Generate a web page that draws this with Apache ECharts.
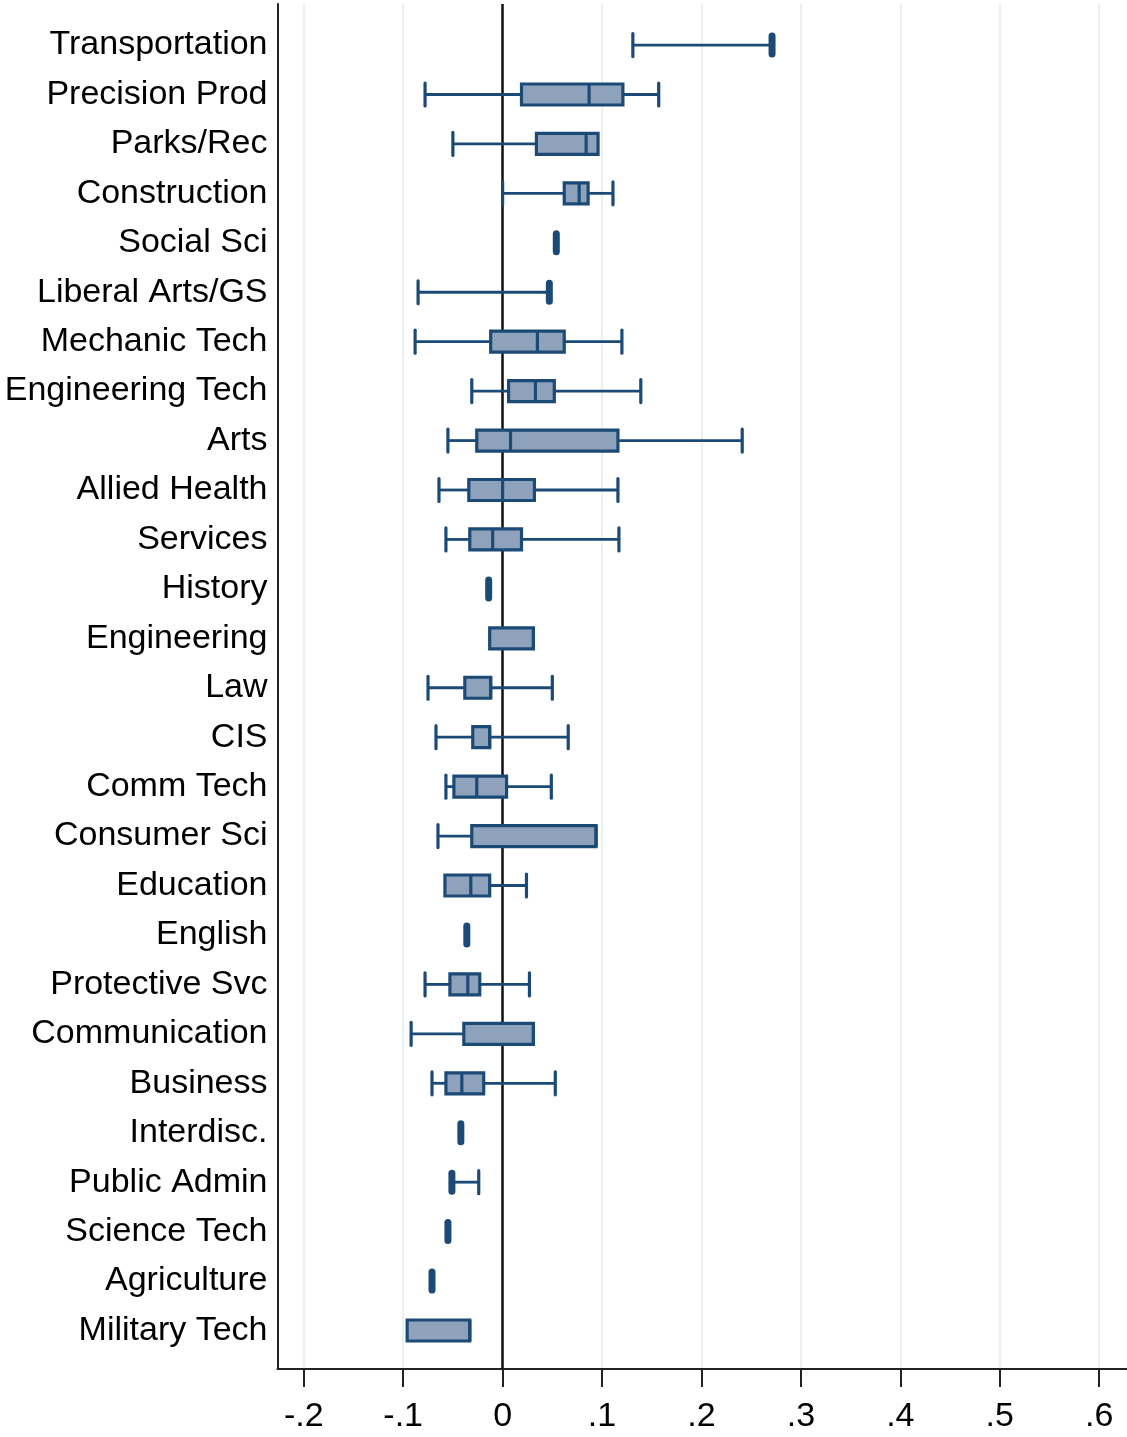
<!DOCTYPE html>
<html>
<head>
<meta charset="utf-8">
<title>Distribution of effects by field</title>
<script src="https://cdn.jsdelivr.net/npm/echarts@6/dist/echarts.min.js"></script>
<style>
  html, body { margin: 0; padding: 0; background: #fff; }
  #chart { width: 1127px; height: 1437px; }
</style>
</head>
<body>
<div id="chart"></div>
<script>
// Fields, listed top to bottom
const categories = [
  'Transportation', 'Precision Prod', 'Parks/Rec', 'Construction', 'Social Sci',
  'Liberal Arts/GS', 'Mechanic Tech', 'Engineering Tech', 'Arts', 'Allied Health',
  'Services', 'History', 'Engineering', 'Law', 'CIS', 'Comm Tech', 'Consumer Sci',
  'Education', 'English', 'Protective Svc', 'Communication', 'Business',
  'Interdisc.', 'Public Admin', 'Science Tech', 'Agriculture', 'Military Tech'
];

// Box-plot statistics per field (same order as categories)
const whiskerLow  = [0.131, -0.078, -0.050, 0.000, 0.054, -0.085, -0.088, -0.031, -0.055, -0.064, -0.057, -0.014, -0.013, -0.075, -0.067, -0.057, -0.065, -0.058, -0.036, -0.078, -0.092, -0.071, -0.042, -0.051, -0.055, -0.071, -0.096];
const boxLow      = [0.271,  0.019,  0.034, 0.062, 0.054,  0.047, -0.012,  0.006, -0.026, -0.034, -0.033, -0.014, -0.013, -0.038, -0.030, -0.049, -0.031, -0.058, -0.036, -0.053, -0.039, -0.057, -0.042, -0.051, -0.055, -0.071, -0.096];
const medians     = [0.271,  0.087,  0.084, 0.077, 0.054,  0.047,  0.035,  0.033,  0.008,  0.000, -0.010, -0.014,  0.031, -0.012, -0.013, -0.026,  0.094, -0.032, -0.036, -0.035,  0.031, -0.041, -0.042, -0.051, -0.055, -0.071, -0.033];
const boxHigh     = [0.271,  0.121,  0.096, 0.086, 0.054,  0.047,  0.062,  0.052,  0.116,  0.032,  0.019, -0.014,  0.031, -0.012, -0.013,  0.004,  0.094, -0.013, -0.036, -0.023,  0.031, -0.019, -0.042, -0.051, -0.055, -0.071, -0.033];
const whiskerHigh = [0.271,  0.157,  0.096, 0.111, 0.054,  0.047,  0.120,  0.139,  0.241,  0.116,  0.117, -0.014,  0.031,  0.050,  0.066,  0.049,  0.094,  0.024, -0.036,  0.027,  0.031,  0.053, -0.042, -0.024, -0.055, -0.071, -0.033];

// X axis ticks and their printed labels
const xTicks = [-0.2, -0.1, 0, 0.1, 0.2, 0.3, 0.4, 0.5, 0.6];
const xTickLabels = ['-.2', '-.1', '0', '.1', '.2', '.3', '.4', '.5', '.6'];

const N = categories.length;
const rowValues = categories.map((_, i) => N - 1 - i);

const NAVY = '#1c4a76';
const FILL = '#8ea3bb';
const FONT = '"Liberation Sans", Arial, "DejaVu Sans", sans-serif';

const boxData = categories.map((_, i) => [
  rowValues[i], whiskerLow[i], boxLow[i], medians[i], boxHigh[i], whiskerHigh[i]
]);

function renderBox(params, api) {
  const row = api.value(0);
  const lo = api.value(1), q1 = api.value(2), md = api.value(3), q3 = api.value(4), hi = api.value(5);
  const pLo = api.coord([lo, row]);
  const pQ1 = api.coord([q1, row]);
  const pMd = api.coord([md, row]);
  const pQ3 = api.coord([q3, row]);
  const pHi = api.coord([hi, row]);
  const cy = pLo[1];
  const halfBox = 10.5, halfCap = 11.5;
  const eps = 1e-9;
  const children = [];
  const line = (x1, y1, x2, y2, w, cap) => ({
    type: 'line',
    shape: { x1, y1, x2, y2 },
    style: { stroke: NAVY, lineWidth: w, lineCap: cap || 'butt' }
  });

  // lower whisker and cap
  if (q1 - lo > eps) {
    children.push(line(pLo[0], cy, pQ1[0], cy, 2.8));
    children.push(line(pLo[0], cy - halfCap, pLo[0], cy + halfCap, 3.2, 'round'));
  }
  // upper whisker and cap
  if (hi - q3 > eps) {
    children.push(line(pQ3[0], cy, pHi[0], cy, 2.8));
    children.push(line(pHi[0], cy - halfCap, pHi[0], cy + halfCap, 3.2, 'round'));
  }
  if (q3 - q1 > eps) {
    // interquartile box
    children.push({
      type: 'rect',
      shape: { x: pQ1[0], y: cy - halfBox, width: pQ3[0] - pQ1[0], height: halfBox * 2 },
      style: { fill: FILL, stroke: NAVY, lineWidth: 3.2 }
    });
    // median
    children.push(line(pMd[0], cy - halfBox, pMd[0], cy + halfBox, 3.2));
  } else {
    // collapsed box: all quartiles coincide
    children.push(line(pQ1[0], cy - 9, pQ1[0], cy + 9, 7, 'round'));
  }
  return { type: 'group', children };
}

const chart = echarts.init(document.getElementById('chart'), null, { renderer: 'canvas' });

chart.setOption({
  animation: false,
  backgroundColor: '#ffffff',
  grid: { left: 277.5, right: 0, top: 4, bottom: 68, containLabel: false },
  xAxis: {
    type: 'value',
    min: -0.2264,
    max: 0.628,
    axisLine: { show: true, onZero: false, lineStyle: { color: '#222', width: 2 } },
    axisTick: { show: true, length: 18, customValues: xTicks, lineStyle: { color: '#222', width: 2 } },
    axisLabel: {
      customValues: xTicks,
      margin: 31,
      fontSize: 34,
      fontFamily: FONT,
      color: '#000',
      formatter: (v) => {
        const k = xTicks.findIndex(t => Math.abs(t - v) < 1e-6);
        return k >= 0 ? xTickLabels[k] : '';
      }
    },
    splitLine: { show: true, lineStyle: { color: '#e3ecef', width: 1.5 } }
  },
  yAxis: {
    type: 'value',
    min: -0.779,
    max: 26.83,
    axisLine: { show: true, onZero: false, lineStyle: { color: '#222', width: 2 } },
    axisTick: { show: false, customValues: rowValues },
    axisLabel: {
      customValues: rowValues,
      margin: 10,
      fontSize: 34,
      fontFamily: FONT,
      color: '#000',
      padding: [3, 0, 0, 0],
      formatter: (v) => categories[N - 1 - Math.round(v)]
    },
    splitLine: { show: false }
  },
  series: [
    {
      type: 'custom',
      name: 'boxes',
      z: 10,
      renderItem: renderBox,
      encode: { x: [1, 2, 3, 4, 5], y: 0 },
      data: boxData,
      markLine: {
        silent: true,
        symbol: 'none',
        z: 5,
        label: { show: false },
        lineStyle: { color: '#111', width: 2.5, type: 'solid' },
        data: [{ xAxis: 0 }]
      }
    }
  ]
});
</script>
</body>
</html>
